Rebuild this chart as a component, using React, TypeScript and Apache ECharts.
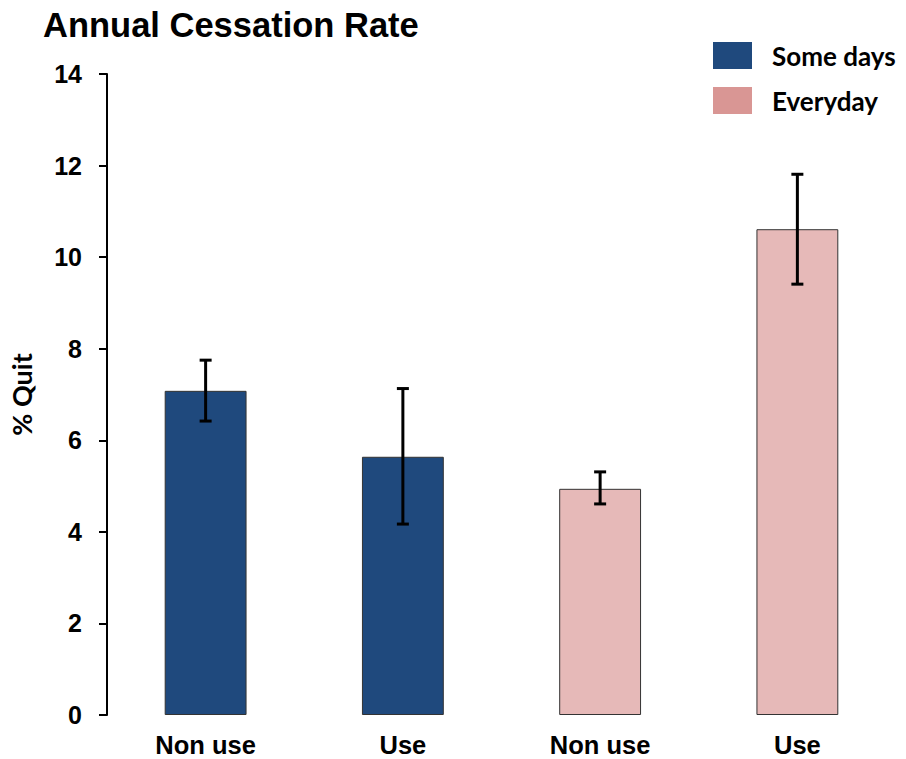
import React, { useEffect, useRef } from "react";
import * as echarts from "echarts";

// Annual cessation rate by use status, split by smoking frequency
const categories = ["Non use", "Use", "Non use", "Use"];
const someDaysValues = [7.08, 5.64, null, null];
const everydayValues = [null, null, 4.94, 10.61];
// [category index, lower bound, upper bound]
const errorRanges = [
  [0, 6.42, 7.75],
  [1, 4.17, 7.13],
  [2, 4.61, 5.31],
  [3, 9.41, 11.81],
];
const yTicks = { min: 0, max: 14, interval: 2 };

const BLUE = "#1f497d";
const PINK_BAR = "#e6b9b8";
const PINK_KEY = "#d99694";
const ARIAL = "'Liberation Sans', Arial, sans-serif";
const CALIBRI = "Lato, 'Open Sans', sans-serif";

export default function App() {
  const ref = useRef<HTMLDivElement>(null);

  useEffect(() => {
    if (!ref.current) return;
    const chart = echarts.init(ref.current, undefined, { renderer: "svg" });
    chart.setOption({
      animation: false,
      backgroundColor: "#ffffff",
      title: {
        text: "Annual Cessation Rate",
        left: 38,
        top: 2,
        textStyle: { fontFamily: ARIAL, fontWeight: "bold", fontSize: 34.5, color: "#000" },
      },
      legend: {
        orient: "vertical",
        left: 708,
        top: 37,
        itemWidth: 39,
        itemHeight: 27,
        itemGap: 18,
        icon: "rect",
        textStyle: { fontFamily: CALIBRI, fontWeight: "bold", fontSize: 26, color: "#000", padding: [0, 0, 0, 15] },
        data: [
          { name: "Some days", itemStyle: { color: BLUE, borderWidth: 0 } },
          { name: "Everyday", itemStyle: { color: PINK_KEY, borderWidth: 0 } },
        ],
      },
      grid: { left: 105, right: 10, top: 74, bottom: 44, containLabel: false },
      xAxis: {
        type: "category",
        data: categories,
        axisLine: { show: false },
        axisTick: { show: false },
        axisLabel: {
          margin: 17,
          fontFamily: ARIAL,
          fontWeight: "bold",
          fontSize: 25.5,
          color: "#000",
        },
      },
      yAxis: {
        type: "value",
        min: yTicks.min,
        max: yTicks.max,
        interval: yTicks.interval,
        name: "% Quit",
        nameLocation: "middle",
        nameRotate: 90,
        nameGap: 72,
        nameTextStyle: { fontFamily: CALIBRI, fontWeight: "bold", fontSize: 27, color: "#000" },
        splitLine: { show: false },
        axisLine: { show: true, lineStyle: { color: "#000", width: 2 } },
        axisTick: { show: true, inside: false, length: 8, lineStyle: { color: "#000", width: 2 } },
        axisLabel: {
          margin: 25,
          fontFamily: ARIAL,
          fontWeight: "bold",
          fontSize: 25,
          color: "#000",
        },
      },
      series: [
        {
          name: "Some days",
          type: "bar",
          stack: "rate",
          barWidth: "41.5%",
          data: someDaysValues,
          itemStyle: { color: BLUE, borderColor: "#333", borderWidth: 1 },
        },
        {
          name: "Everyday",
          type: "bar",
          stack: "rate",
          barWidth: "41.5%",
          data: everydayValues,
          itemStyle: { color: PINK_BAR, borderColor: "#333", borderWidth: 1 },
        },
        {
          name: "error",
          type: "custom",
          z: 10,
          encode: { x: 0, y: [1, 2] },
          data: errorRanges,
          renderItem: (params: any, api: any) => {
            const idx = api.value(0);
            const lo = api.coord([idx, api.value(1)]);
            const hi = api.coord([idx, api.value(2)]);
            const half = 6;
            const style = { stroke: "#000", lineWidth: 3 };
            return {
              type: "group",
              children: [
                { type: "line", shape: { x1: lo[0], y1: lo[1], x2: hi[0], y2: hi[1] }, style },
                { type: "line", shape: { x1: lo[0] - half, y1: lo[1], x2: lo[0] + half, y2: lo[1] }, style },
                { type: "line", shape: { x1: hi[0] - half, y1: hi[1], x2: hi[0] + half, y2: hi[1] }, style },
              ],
            };
          },
        },
      ],
    });
    return () => chart.dispose();
  }, []);

  return (
    <div
      ref={ref}
      style={{ position: "fixed", left: 0, top: 0, width: 906, height: 759, background: "#fff" }}
    />
  );
}
